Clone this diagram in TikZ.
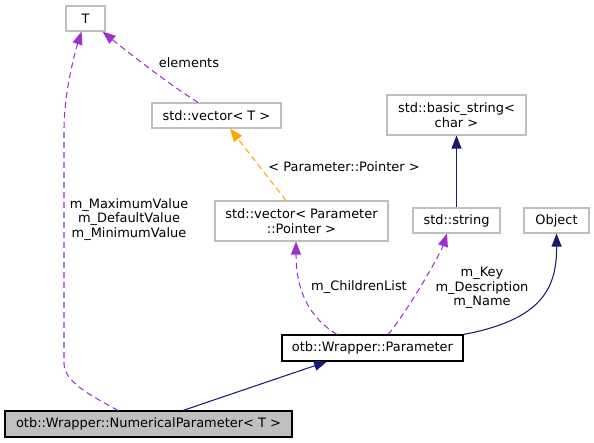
\documentclass[tikz,border=0pt]{standalone}
\usepackage{fontspec}
\setmainfont{DejaVu Sans}
\usetikzlibrary{arrows.meta}
\definecolor{boxgray}{HTML}{BFBFBF}
\definecolor{fillgray}{HTML}{BFBFBF}
\definecolor{orchid}{HTML}{9A32CD}
\definecolor{mnblue}{HTML}{191970}
\definecolor{dorange}{HTML}{FFA500}
\tikzset{
  cls/.style={draw=boxgray, line width=1.1pt, rectangle, inner sep=0pt, align=center,
    font=\fontsize{12.95}{14.6}\selectfont},
  clsdark/.style={cls, draw=black},
  lbl/.style={inner sep=0pt, align=center, font=\fontsize{12.95}{14.6}\selectfont},
  tip/.style={-{Triangle[length=13pt,width=10pt]}},
  mem/.style={tip, draw=orchid, line width=1.05pt, dash pattern=on 6pt off 4pt},
  inh/.style={tip, draw=mnblue, line width=1.05pt},
  tmpl/.style={tip, draw=dorange, line width=1.05pt, dash pattern=on 6pt off 4pt},
}
\begin{document}
\begin{tikzpicture}[x=1pt,y=-1pt]
\useasboundingbox (0,0) rectangle (594,443);
\node[cls, minimum width=39pt, minimum height=25pt] (T) at (85.5,18.5) {T};
\node[cls, minimum width=129pt, minimum height=25pt] (vecT) at (216.5,115.5) {std::vector< T >};
\node[cls, minimum width=139pt, minimum height=40pt] (bstr) at (456.5,115) {std::basic\_string<\\char >};
\node[cls, minimum width=173pt, minimum height=40pt] (vecP) at (301.5,221) {std::vector< Parameter\\::Pointer >};
\node[cls, minimum width=87pt, minimum height=25pt] (str) at (456.5,220.5) {std::string};
\node[cls, minimum width=65pt, minimum height=25pt] (obj) at (556.5,220.5) {Object};
\node[clsdark, fill=white, minimum width=181pt, minimum height=26pt] (param) at (372.5,348) {otb::Wrapper::Parameter};
\node[clsdark, fill=fillgray, minimum width=287pt, minimum height=26pt] (np) at (148.5,424) {otb::Wrapper::NumericalParameter< T >};

% np -> T
\draw[mem] ([xshift=-30.5pt]np.north) .. controls (90,395) and (64,382) .. (64,363) -- (64,130) .. controls (64,95) and (74,55) .. ([xshift=-4pt]T.south);
\node[lbl] (lT) at (129,219.5) {m\_MaximumValue\\m\_DefaultValue\\m\_MinimumValue};

% vecT -> T
\draw[mem] ([xshift=-18.5pt]vecT.north) .. controls (170,85) and (125,50) .. ([xshift=-3pt]T.south east);
\node[lbl] (lel) at (189,63) {elements};

% vecP -> vecT
\draw[tmpl] ([xshift=-15.5pt]vecP.north) -- ([xshift=13.5pt]vecT.south);
\node[lbl] (lpp) at (344,167) {< Parameter::Pointer >};

% param -> vecP
\draw[mem] ([xshift=-35.5pt]param.north) .. controls (310,318) and (296,292) .. ([xshift=-5.5pt]vecP.south);
\node[lbl] (lcl) at (359,287) {m\_ChildrenList};

% param -> str
\draw[mem] ([xshift=15.5pt]param.north) .. controls (405,315) and (440,255) .. ([xshift=-9.5pt]str.south);
\node[lbl] (lkey) at (482,288) {m\_Key\\m\_Description\\m\_Name};

% param -> obj
\draw[inh] (param.north east) .. controls (540,320) and (557,290) .. (obj.south);

% str -> bstr
\draw[inh] (str.north) -- (bstr.south);

% np -> param
\draw[inh] ([xshift=34.5pt]np.north) -- ([xshift=-45.5pt]param.south);
\end{tikzpicture}
\end{document}
